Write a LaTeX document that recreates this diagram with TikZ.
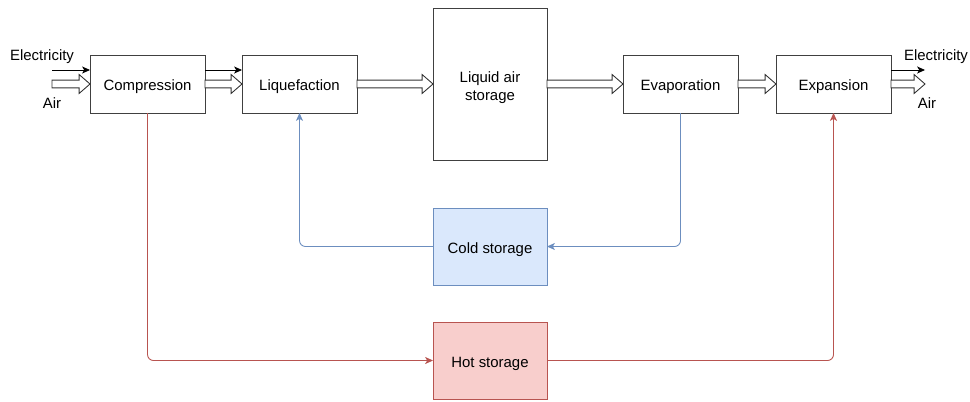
\documentclass[tikz,border=0pt]{standalone}
\usepackage{fontspec}
\setmainfont{Liberation Sans}
\usepackage{tikz}
\usetikzlibrary{positioning,calc,arrows.meta}

\definecolor{coldline}{HTML}{6C8EBF}
\definecolor{coldfill}{HTML}{DAE8FC}
\definecolor{hotline}{HTML}{B85450}
\definecolor{hotfill}{HTML}{F8CECC}

\tikzset{
    block/.style={draw=black!75, line width=0.5pt, fill=white, minimum width=2.3cm, minimum height=1.16cm, outer sep=0pt, font=\fontsize{8.5}{10.4}\selectfont, align=center, text height=9.6pt, text depth=2.2pt},
    thinarrow/.style={line width=0.5pt, -{Stealth[length=4.5pt, width=4pt, inset=1.2pt]}},
    hollow/.style={draw=black!80, line width=0.5pt, fill=white, to path={
        let \p1=(\tikztostart), \p2=(\tikztotarget) in
        (\x1,\y1+2.2pt) -- (\x2-6.2pt,\y1+2.2pt) -- (\x2-6.2pt,\y1+5.4pt) -- (\x2,\y1)
        -- (\x2-6.2pt,\y1-5.4pt) -- (\x2-6.2pt,\y1-2.2pt) -- (\x1,\y1-2.2pt) -- cycle}},
    coldpipe/.style={draw=coldline, line width=0.5pt, rounded corners=0.12cm, -{Stealth[length=4.5pt, width=4pt, inset=1.2pt]}},
    hotpipe/.style={draw=hotline, line width=0.5pt, rounded corners=0.12cm, -{Stealth[length=4.5pt, width=4pt, inset=1.2pt]}},
    lbl/.style={font=\fontsize{8.5}{10}\selectfont}
}

\begin{document}
\begin{tikzpicture}
    \useasboundingbox (0,0) rectangle (19.4,-8.02);

    % Main process line
    \node[block] (comp) at (2.95,-1.68) {Compression};
    \node[block, right=0.74cm of comp] (liq) {Liquefaction};
    \node[block, right=1.52cm of liq, minimum width=2.28cm, minimum height=3.04cm, text height=21pt] (store) {Liquid air\\storage};
    \node[block, right=1.52cm of store] (evap) {Evaporation};
    \node[block, right=0.76cm of evap] (expa) {Expansion};

    % Thermal storages
    \node[block, below=0.96cm of store, minimum width=2.28cm, minimum height=1.54cm, draw=coldline, fill=coldfill] (cold) {Cold storage};
    \node[block, below=0.74cm of cold, minimum width=2.28cm, minimum height=1.54cm, draw=hotline, fill=hotfill] (hot) {Hot storage};

    % Inputs
    \coordinate (elecin) at (1.04,-1.40);
    \coordinate (airin) at (1.04,-1.68);
    \node[lbl] (elecinlbl) at (0.84,-1.14) {Electricity};
    \node[lbl] (airinlbl) at (1.04,-2.06) {Air};
    \draw[thinarrow] (elecin) -- (elecin -| comp.west);
    \draw[hollow] (airin) to (comp.west);

    % Outputs
    \coordinate (elecout) at (18.5,-1.40);
    \coordinate (airout) at (18.5,-1.68);
    \node[lbl] (elecoutlbl) at (18.72,-1.14) {Electricity};
    \node[lbl] (airoutlbl) at (18.54,-2.06) {Air};
    \draw[thinarrow] (elecout -| expa.east) -- (elecout);
    \draw[hollow] (expa.east) to (airout);

    % Flow between blocks
    \draw[thinarrow] ($(comp.east)+(0,0.28)$) -- ($(liq.west)+(0,0.28)$);
    \draw[hollow] (comp.east) to (liq.west);
    \draw[hollow] (liq.east) to (store.west);
    \draw[hollow] (store.east) to (evap.west);
    \draw[hollow] (evap.east) to (expa.west);

    % Cold loop
    \draw[coldpipe] (evap.south) |- (cold.east);
    \draw[coldpipe] (cold.west) -| (liq.south);

    % Hot loop
    \draw[hotpipe] (comp.south) |- (hot.west);
    \draw[hotpipe] (hot.east) -| (expa.south);
\end{tikzpicture}
\end{document}
